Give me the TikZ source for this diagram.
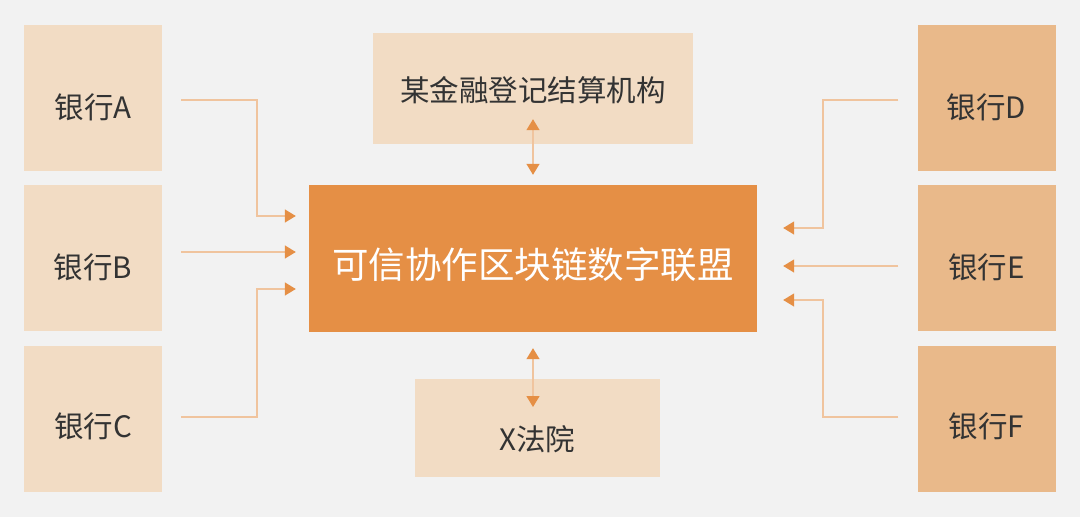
\documentclass[tikz,border=0pt]{standalone}
\usepackage{fontspec}
\setmainfont{Noto Sans CJK SC}
\usetikzlibrary{arrows.meta}
\definecolor{bgc}{HTML}{F2F2F2}
\definecolor{lightbox}{HTML}{F2DCC4}
\definecolor{rightbox}{HTML}{E9B98A}
\definecolor{mainbox}{HTML}{E58F45}
\definecolor{linec}{HTML}{F0C49E}
\definecolor{tipc}{HTML}{E58F45}
\definecolor{txtc}{HTML}{333333}
\tikzset{
  bank/.style={rectangle, draw=none, minimum width=138pt, minimum height=146pt, inner sep=0pt},
  lbank/.style={bank, fill=lightbox},
  rbank/.style={bank, fill=rightbox},
  lbl/.style={font=\fontsize{29.5}{31}\selectfont, text=txtc},
  conn/.style={draw=linec, line width=1.4pt, -{Triangle[length=11pt,width=13pt,color=tipc]}},
  vconn/.style={draw=linec, line width=1.4pt, {Triangle[length=11pt,width=13pt,color=tipc]}-{Triangle[length=11pt,width=13pt,color=tipc]}}
}
\begin{document}
\begin{tikzpicture}[x=1pt,y=-1pt]
\fill[bgc] (0,0) rectangle (1080,517);
\useasboundingbox (0,0) rectangle (1080,517);
% left banks
\node[lbank, label={[lbl,yshift=-9pt]center:银行A}] (A) at (93,98) {};
\node[lbank, label={[lbl,yshift=-9pt]center:银行B}] (B) at (93,258) {};
\node[lbank, label={[lbl,yshift=-8pt]center:银行C}] (C) at (93,418.5) {};
% right banks
\node[rbank, label={[lbl,yshift=-9pt]center:银行D}] (D) at (986.5,98) {};
\node[rbank, label={[lbl,yshift=-9pt]center:银行E}] (E) at (986.5,258) {};
\node[rbank, label={[lbl,yshift=-8pt]center:银行F}] (F) at (986.5,418.5) {};
% top / bottom
\node[rectangle, fill=lightbox, minimum width=320pt, minimum height=111pt, inner sep=0pt,
      label={[lbl,yshift=-2pt]center:某金融登记结算机构}] (T) at (533,88.5) {};
\node[rectangle, fill=lightbox, minimum width=245pt, minimum height=98pt, inner sep=0pt,
      label={[lbl,yshift=-11pt]center:X法院}] (X) at (537.5,428) {};
% main
\node[rectangle, fill=mainbox, minimum width=448pt, minimum height=147pt, inner sep=0pt,
      label={[font=\fontsize{36.5}{38}\selectfont, text=white, yshift=-6pt]center:可信协作区块链数字联盟}] (M) at (533,258.5) {};
% left connectors
\draw[conn, shorten <=19pt, shorten >=13pt] ([yshift=-2pt]A.east) -| (257,216) -- (M.west |- 257,216);
\draw[conn, shorten <=19pt, shorten >=13pt] ([yshift=6pt]B.east) -- (M.west |- 0,252);
\draw[conn, shorten <=19pt, shorten >=13pt] ([yshift=1.5pt]C.east) -| (257,289) -- (M.west |- 257,289);
% right connectors
\draw[conn, shorten <=19pt, shorten >=26pt] ([yshift=-2pt]D.west) -| (823,228) -- (M.east |- 823,228);
\draw[conn, shorten <=19pt, shorten >=26pt] ([yshift=-8pt]E.west) -- (M.east |- 0,266);
\draw[conn, shorten <=19pt, shorten >=26pt] ([yshift=1.5pt]F.west) -| (823,300) -- (M.east |- 823,300);
% vertical connectors
\draw[vconn] ([yshift=25pt]T.south) -- ([yshift=10pt]M.north);
\draw[vconn] ([yshift=-16pt]M.south) -- (M.south |- 0,407);
\end{tikzpicture}
\end{document}
